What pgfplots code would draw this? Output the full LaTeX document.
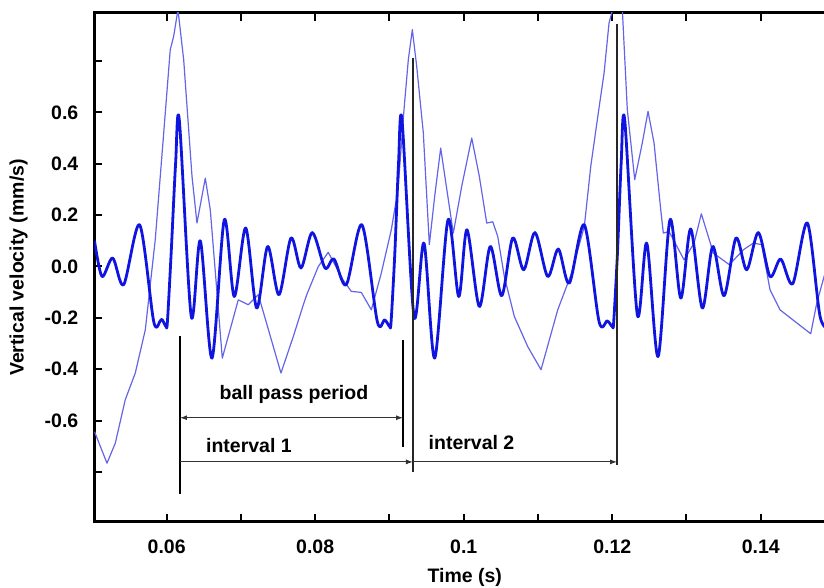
\documentclass[border=0pt]{standalone}
\usepackage{pgfplots}
\pgfplotsset{compat=1.18}
\usepackage{fontspec}
\setmainfont{Liberation Sans}
\usetikzlibrary{arrows.meta}

\definecolor{thickblue}{RGB}{15,20,225}
\definecolor{thinblue}{RGB}{100,100,232}
\newcommand{\lblfont}{\fontsize{19.5pt}{23pt}\selectfont\bfseries}

% filtered signal (thick trace)
\pgfplotstableread{
t v
0.05028 0.100
0.05129 -0.039
0.05273 0.033
0.05421 -0.071
0.05636 0.162
0.05825 -0.214
0.05914 -0.212
0.05937 -0.206
0.05991 -0.234
0.06010 -0.215
0.06060 0.050
0.06120 0.400
0.06170 0.571
0.06331 -0.195
0.06453 0.100
0.06610 -0.357
0.06776 0.182
0.06910 -0.117
0.07064 0.150
0.07212 -0.162
0.07360 0.078
0.07512 -0.110
0.07674 0.111
0.07809 -0.006
0.07961 0.132
0.08132 -0.006
0.08253 0.029
0.08419 -0.071
0.08630 0.162
0.08836 -0.214
0.08936 -0.208
0.09003 -0.234
0.09022 -0.215
0.09072 0.050
0.09122 0.400
0.09169 0.571
0.09331 -0.195
0.09465 0.091
0.09609 -0.357
0.09789 0.182
0.09933 -0.117
0.10044 0.143
0.10210 -0.156
0.10358 0.078
0.10512 -0.114
0.10660 0.111
0.10808 -0.013
0.10960 0.132
0.11131 -0.039
0.11274 0.068
0.11422 -0.065
0.11624 0.162
0.11822 -0.214
0.11934 -0.212
0.12001 -0.234
0.12020 -0.215
0.12070 0.050
0.12120 0.400
0.12168 0.571
0.12338 -0.188
0.12465 0.091
0.12617 -0.351
0.12778 0.182
0.12923 -0.123
0.13057 0.146
0.13213 -0.162
0.13354 0.078
0.13506 -0.114
0.13667 0.111
0.13811 -0.013
0.13968 0.132
0.14125 -0.039
0.14269 0.029
0.14431 -0.067
0.14628 0.169
0.14799 -0.195
0.14930 -0.240
}\thicktrace

% measured signal (thin trace)
\pgfplotstableread{
t v
0.05028 -0.643
0.05196 -0.766
0.05308 -0.688
0.05442 -0.519
0.05577 -0.415
0.05712 -0.247
0.05846 0.104
0.05960 0.520
0.06048 0.844
0.06094 0.896
0.06152 1.000
0.06229 0.805
0.06341 0.351
0.06408 0.169
0.06520 0.344
0.06587 0.221
0.06749 -0.357
0.06964 -0.130
0.07099 -0.149
0.07234 -0.110
0.07539 -0.415
0.07705 -0.273
0.07840 -0.149
0.07886 -0.110
0.08042 0.000
0.08176 0.055
0.08374 -0.052
0.08486 -0.097
0.08621 -0.101
0.08756 -0.169
0.08890 -0.026
0.09025 0.143
0.09115 0.299
0.09196 0.611
0.09254 0.805
0.09308 0.922
0.09367 0.779
0.09456 0.520
0.09537 0.085
0.09609 0.273
0.09690 0.461
0.09766 0.312
0.09860 0.130
0.09973 0.312
0.10108 0.500
0.10210 0.351
0.10310 0.169
0.10391 0.174
0.10458 0.117
0.10547 -0.039
0.10682 -0.195
0.10862 -0.312
0.11041 -0.402
0.11266 -0.169
0.11445 -0.032
0.11624 0.156
0.11711 0.390
0.11799 0.571
0.11890 0.753
0.11957 0.948
0.12061 1.060
0.12136 1.000
0.12203 0.611
0.12303 0.338
0.12405 0.481
0.12482 0.604
0.12563 0.481
0.12653 0.221
0.12688 0.130
0.12765 0.136
0.12967 0.026
0.13102 0.091
0.13200 0.205
0.13362 0.052
0.13577 0.007
0.13766 0.065
0.13900 0.091
0.14013 0.085
0.14125 -0.091
0.14260 -0.169
0.14673 -0.262
0.14754 -0.143
0.14853 -0.039
0.15000 0.100
}\thintrace

\begin{document}
\begin{tikzpicture}
\begin{axis}[
  at={(0pt,0pt)}, anchor=south west,
  scale only axis, width=740.5pt, height=509pt,
  xmin=0.05028, xmax=0.15, ymin=-0.995, ymax=0.987,
  axis line style={line width=3pt},
  tick style={line width=2pt, black},
  major tick length=8pt, minor tick length=8pt,
  tick align=inside,
  xtick={0.06,0.08,0.1,0.12,0.14},
  xticklabels={0.06,0.08,0.1,0.12,0.14},
  minor xtick={0.07,0.09,0.11,0.13},
  ytick={-0.6,-0.4,-0.2,0,0.2,0.4,0.6},
  yticklabels={-0.6,-0.4,-0.2,0.0,0.2,0.4,0.6},
  minor ytick={-0.8,0.8},
  ytick pos=left,
  tick label style={font=\lblfont},
  yticklabel style={inner sep=0pt, xshift=-16pt},
  xticklabel style={inner sep=0pt, yshift=-18pt},
  label style={font=\lblfont},
  xlabel={Time (s)},
  ylabel={Vertical velocity (mm/s)},
  xlabel style={at={(axis description cs:0.5,-0.108)}, anchor=center},
  ylabel style={at={(axis description cs:-0.1026,0.5)}, anchor=center},
]
\addplot[thinblue, line width=1.2pt, line join=round] table[x=t, y=v] {\thintrace};
\addplot[thickblue, line width=2.8pt, smooth, tension=0.5, line join=round] table[x=t, y=v] {\thicktrace};

% period markers
\draw[black, line width=1.6pt] (axis cs:0.06179,-0.270) -- (axis cs:0.06179,-0.886);
\draw[black, line width=1.6pt] (axis cs:0.09183,-0.286) -- (axis cs:0.09183,-0.702);
\draw[black!85, line width=2pt] (axis cs:0.09317,0.813) -- (axis cs:0.09317,-0.800);
\draw[black!85, line width=2pt] (axis cs:0.12065,0.946) -- (axis cs:0.12065,-0.773);
\draw[black!80, line width=1pt, {Latex[length=7pt,width=5pt]}-{Latex[length=7pt,width=5pt]}]
  (axis cs:0.06179,-0.589) -- (axis cs:0.09183,-0.589);
\draw[black!80, line width=1pt, -{Latex[length=7pt,width=5pt]}]
  (axis cs:0.06179,-0.761) -- (axis cs:0.09317,-0.761);
\draw[black!80, line width=1pt, -{Latex[length=7pt,width=5pt]}]
  (axis cs:0.09317,-0.761) -- (axis cs:0.12065,-0.761);
\node[font=\lblfont] at (axis cs:0.07714,-0.500) {ball pass period};
\node[font=\lblfont] at (axis cs:0.07108,-0.698) {interval 1};
\node[font=\lblfont] at (axis cs:0.10105,-0.687) {interval 2};
\end{axis}
\pgfresetboundingbox
\path[use as bounding box] (-94.5pt,-66pt) rectangle (729.5pt,522pt);
\end{tikzpicture}
\end{document}
